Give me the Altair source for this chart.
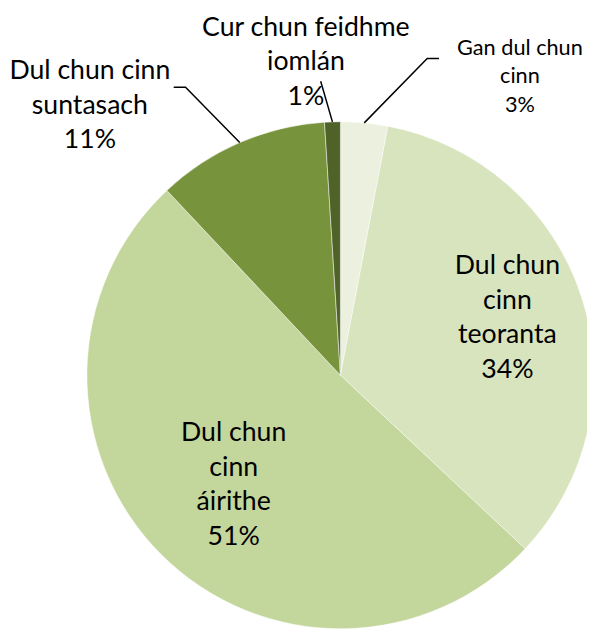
import math
import altair as alt
import pandas as pd

# ---- data ----
categories = ["Gan dul chun cinn", "Dul chun cinn teoranta", "Dul chun cinn áirithe",
              "Dul chun cinn suntasach", "Cur chun feidhme iomlán"]
values = [3, 34, 51, 11, 1]
label_texts = ["Gan dul chun\ncinn\n3%", "Dul chun\ncinn\nteoranta\n34%",
               "Dul chun\ncinn\náirithe\n51%", "Dul chun cinn\nsuntasach\n11%",
               "Cur chun feidhme\niomlán\n1%"]
colors = ["#ebf1de", "#d7e4bd", "#c3d69b", "#77933c", "#4f6228"]

# ---- layout (pixels, chart coordinates) ----
W, H = 587, 623
CX, CY, R = 337, 368, 257
FONT = "Lato"
BIG_FS, BIG_LH = 27, 35

df = pd.DataFrame({"key": categories, "value": values, "label": label_texts,
                   "idx": list(range(len(values)))})

# inside labels: radius and extra vertical nudge
inside = {"Dul chun cinn teoranta": (178, -3), "Dul chun cinn áirithe": (153, 3)}
# outside labels: block centre, font size, line height, elbow points of leader line
outside = {
    "Gan dul chun cinn": dict(tx=519, ty=65, fs=22, lh=29, pts=[(425, 47), (437, 47)]),
    "Cur chun feidhme iomlán": dict(tx=302, ty=51, fs=BIG_FS, lh=BIG_LH, pts=[(317, 70)]),
    "Dul chun cinn suntasach": dict(tx=83, ty=95, fs=BIG_FS, lh=BIG_LH, pts=[(180, 76), (168, 76)]),
}

# leader lines start at the slice mid-angle on the rim
cum = 0
mids = {}
for c, v in zip(categories, values):
    mids[c] = (cum + v / 2) / sum(values) * 2 * math.pi
    cum += v

line_rows, text_rows = [], []
for c, o in outside.items():
    a = mids[c]
    pts = [(CX + R * math.sin(a), CY - R * math.cos(a))] + o["pts"]
    for i, (x, y) in enumerate(pts):
        line_rows.append({"key": c, "seq": i, "px": x, "py": y})
    text_rows.append({"key": c, "label": label_texts[categories.index(c)],
                      "px": o["tx"], "py": o["ty"], "fs": o["fs"], "lh": o["lh"]})
lines_df = pd.DataFrame(line_rows)
texts_df = pd.DataFrame(text_rows)

base = alt.Chart(df).encode(
    theta=alt.Theta("value:Q", stack=True),
    order=alt.Order("idx:Q"),
    x=alt.value(CX), y=alt.value(CY),
)

pie = base.mark_arc(radius=R, stroke="white", strokeWidth=0.5).encode(
    color=alt.Color("key:N", scale=alt.Scale(domain=categories, range=colors), legend=None)
)

layers = [pie]
for c, (rad, nudge) in inside.items():
    n = label_texts[categories.index(c)].count("\n")
    layers.append(
        base.mark_text(radius=rad, lineBreak="\n", lineHeight=BIG_LH, fontSize=BIG_FS, font=FONT,
                       color="black", align="center", baseline="middle",
                       dy=-n * BIG_LH / 2 + nudge).encode(
            text=alt.condition(alt.datum.key == c, alt.Text("label:N"), alt.value(""))
        )
    )

lines = alt.Chart(lines_df).mark_line(color="black", strokeWidth=1.5).encode(
    x=alt.X("px:Q", scale=None, axis=None),
    y=alt.Y("py:Q", scale=None, axis=None),
    detail="key:N",
    order="seq:Q",
)
layers.append(lines)

for i in range(len(texts_df)):
    row = texts_df.iloc[[i]]
    lh = int(row["lh"].iloc[0])
    n = row["label"].iloc[0].count("\n")
    layers.append(
        alt.Chart(row).mark_text(
            lineBreak="\n", lineHeight=lh, fontSize=int(row["fs"].iloc[0]),
            font=FONT, color="black", align="center", baseline="middle",
            dy=-n * lh / 2).encode(
            x=alt.X("px:Q", scale=None, axis=None),
            y=alt.Y("py:Q", scale=None, axis=None),
            text="label:N",
        )
    )

chart = alt.layer(*layers).properties(
    width=W, height=H, padding=0, autosize=alt.AutoSizeParams(type="none")
).configure_view(stroke=None)

chart.save("out.html", embed_options={"renderer": "svg", "actions": False})
